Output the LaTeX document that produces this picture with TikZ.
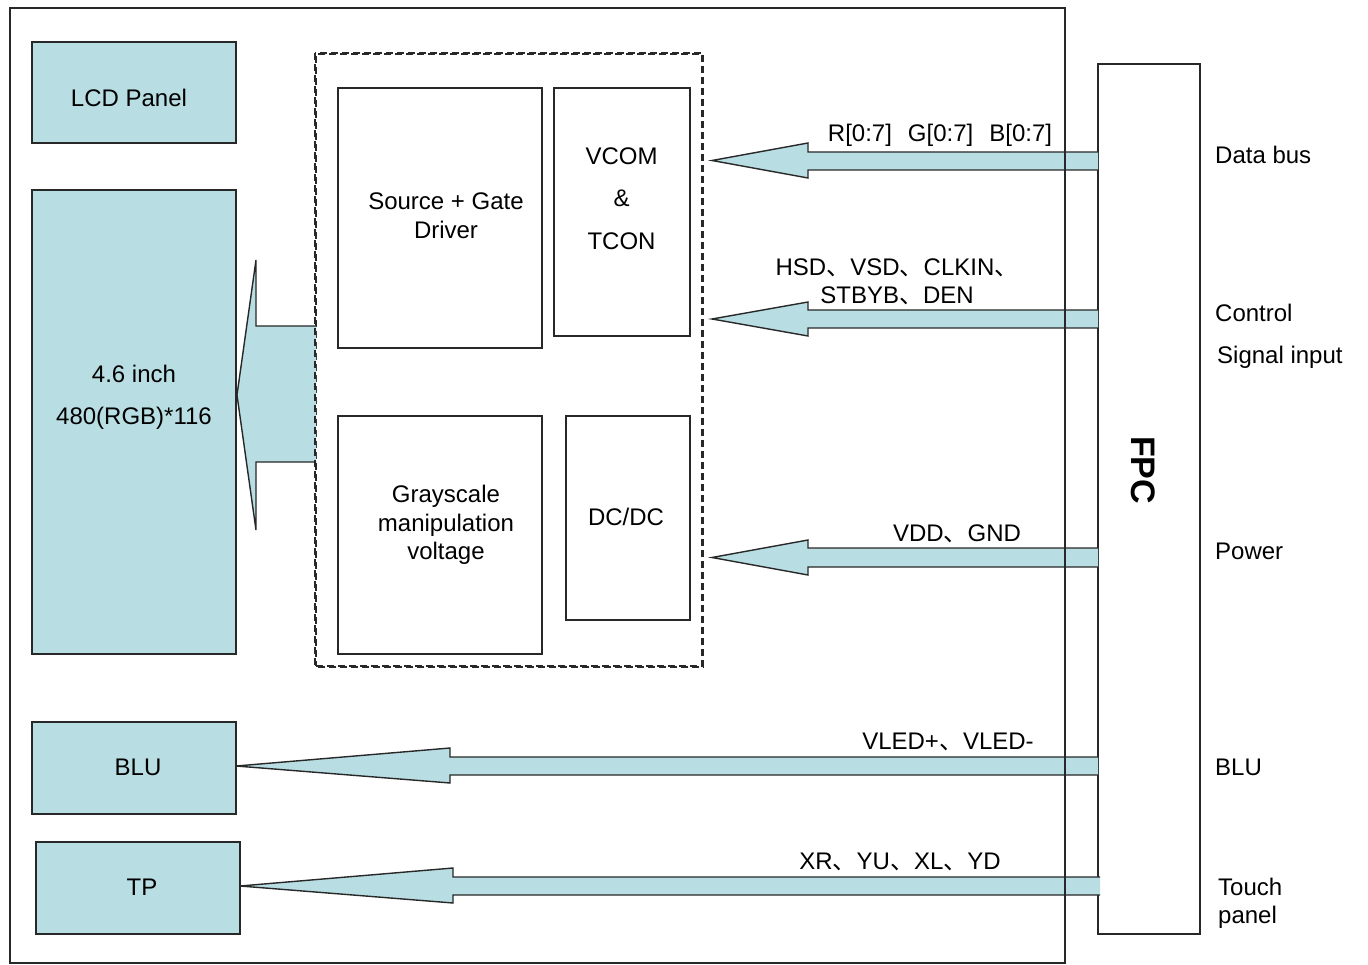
\documentclass[tikz,border=0pt]{standalone}
\usepackage{fontspec}
\setmainfont{Liberation Sans}
\newfontfamily\cjk{Noto Sans CJK SC}
\definecolor{lcdblue}{RGB}{184,221,227}
\definecolor{edge}{RGB}{40,40,40}
\newcommand{\dun}{{\cjk 、}}
\begin{document}
\begin{tikzpicture}[x=1pt,y=-1pt,
  every node/.style={font=\fontsize{24}{28}\selectfont},
  plainbox/.style={draw=edge, line width=1.6pt, inner sep=0pt, outer sep=0pt, fill=white},
  bluebox/.style={plainbox, fill=lcdblue},
  lbl/.style={inner sep=0pt, align=center, text height=17.5pt, text depth=0pt},
  skipa/.style={font=\fontsize{24}{28.5}\selectfont},
  skipb/.style={font=\fontsize{24}{42.5}\selectfont},
  rlbl/.style={lbl, anchor=west, align=left},
  barrow/.style={draw=edge, line width=1.4pt, fill=lcdblue, line join=miter},
  groupbox/.style={draw=edge, line width=1.6pt, dash pattern=on 7pt off 4pt}]
\useasboundingbox (0,0) rectangle (1368,965);
\fill[white] (0,0) rectangle (1368,965);

% ---- left boxes (multi-line labels are placed by their last line)
\node[bluebox, minimum width=204pt, minimum height=101pt] (lcd) at (134,92.5) {};
\node[lbl] at (129,97.5) {LCD Panel};
\node[bluebox, minimum width=204pt, minimum height=464pt] (panel) at (134,422) {};
\node[lbl, skipb] at (134,416) {4.6 inch\\480(RGB)*116};
\node[bluebox, minimum width=204pt, minimum height=92pt] (blu) at (134,768) {};
\node[lbl] at (138,767) {BLU};
\node[bluebox, minimum width=204pt, minimum height=92pt] (tp) at (138,888) {};
\node[lbl] at (142,887) {TP};

% ---- driver group
\node[groupbox, minimum width=386pt, minimum height=612pt, inner sep=0pt] (grp) at (509,360) {};
\node[plainbox, minimum width=204pt, minimum height=260pt] (sg) at (440,218) {};
\node[lbl, skipa] at (446,229.5) {Source + Gate\\Driver};
\node[plainbox, minimum width=136pt, minimum height=248pt] (vcom) at (622,212) {};
\node[lbl, skipb] at (621.5,240.5) {VCOM\\\&\\TCON};
\node[plainbox, minimum width=204pt, minimum height=238pt] (gray) at (440,535) {};
\node[lbl, skipa] at (446,551) {Grayscale\\manipulation\\voltage};
\node[plainbox, minimum width=124pt, minimum height=204pt] (dcdc) at (628,518) {};
\node[lbl] at (626,517) {DC/DC};

% ---- big arrow from driver group to panel
\fill[lcdblue] (316,326) -- (256,326) -- (256,260) -- (237,395) -- (256,530) -- (256,462) -- (316,462) -- cycle;
\draw[line width=1.4pt, draw=edge, line join=miter] (316,326) -- (256,326) -- (256,260) -- (237,395) -- (256,530) -- (256,462) -- (316,462);
\draw[groupbox] (grp.north west) rectangle (grp.south east);

% ---- FPC
\node[plainbox, minimum width=102pt, minimum height=870pt] (fpc) at (1149,499) {};
\node[inner sep=0pt, rotate=-90, font=\fontsize{34}{38}\selectfont\bfseries] at (1143,470) {FPC};

% ---- signal arrows
\draw[barrow] (fpc.west |- 0,152) -- (808,152) -- (808,143) -- (712,160.5) -- (808,178) -- (808,170) -- (fpc.west |- 0,170);
\draw[barrow] (fpc.west |- 0,310) -- (808,310) -- (808,302) -- (712,319) -- (808,336) -- (808,328) -- (fpc.west |- 0,328);
\draw[barrow] (fpc.west |- 0,548) -- (808,548) -- (808,540) -- (712,557.5) -- (808,575) -- (808,567) -- (fpc.west |- 0,567);
\draw[barrow] (fpc.west |- 0,757) -- (450,757) -- (450,748) -- (blu.east |- 0,766) -- (450,783) -- (450,775) -- (fpc.west |- 0,775);
\draw[barrow] (1100,877) -- (453,877) -- (453,868) -- (tp.east |- 0,886) -- (453,903) -- (453,895) -- (1100,895);

% ---- outer frame (drawn over the arrows)
\draw[draw=edge, line width=1.6pt] (10,8) rectangle (1065,963);

% ---- arrow labels
\node[lbl] at (940,133) {R[0:7]\hspace{16pt}G[0:7]\hspace{16pt}B[0:7]};
\node[lbl, skipa] at (897,295) {HSD\dun VSD\dun CLKIN\dun\\STBYB\dun DEN};
\node[lbl] at (957,533) {VDD\dun GND};
\node[lbl] at (948,741) {VLED+\dun VLED-};
\node[lbl] at (900,861) {XR\dun YU\dun XL\dun YD};

% ---- right labels
\node[rlbl] at (1215,155) {Data bus};
\node[rlbl] at (1215,313) {Control};
\node[rlbl] at (1217,355) {Signal\ input};
\node[rlbl] at (1215,551) {Power};
\node[rlbl] at (1215,767) {BLU};
\node[rlbl, skipa] at (1218,915) {Touch\\panel};
\end{tikzpicture}
\end{document}
